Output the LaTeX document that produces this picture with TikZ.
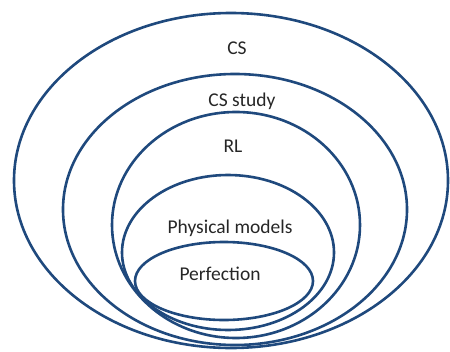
\documentclass[tikz,border=0pt]{standalone}
\usepackage{fontspec}
\setmainfont{Carlito}
\usetikzlibrary{shapes.geometric}
\definecolor{ringblue}{RGB}{31,73,125}
\tikzset{
  ring/.style={ellipse, draw=ringblue, line width=2.6pt, inner sep=0pt},
  lbl/.style={anchor=base, inner sep=0pt, font=\fontsize{19.5}{23}\selectfont, text=black!85}
}
\begin{document}
\begin{tikzpicture}[x=1pt,y=-1pt]
\useasboundingbox (0,0) rectangle (450,351);
\node[ring, minimum width=434pt, minimum height=335pt] (cs) at (231,180.5) {};
\node[ring, minimum width=344pt, minimum height=271pt] (study) at (235,209.5) {};
\node[ring, minimum width=248pt, minimum height=226pt] (rl) at (236,225) {};
\node[ring, minimum width=212pt, minimum height=155pt] (pm) at (228,252.5) {};
\node[ring, minimum width=178pt, minimum height=78pt] (perf) at (224,281) {};
\node[lbl] (tcs) at (237,54) {CS};
\node[lbl] (tstudy) at (242,106) {CS study};
\node[lbl] (trl) at (233,152) {RL};
\node[lbl] (tpm) at (230,233) {Physical models};
\node[lbl] (tperf) at (220,280) {Perfection};
\end{tikzpicture}
\end{document}
